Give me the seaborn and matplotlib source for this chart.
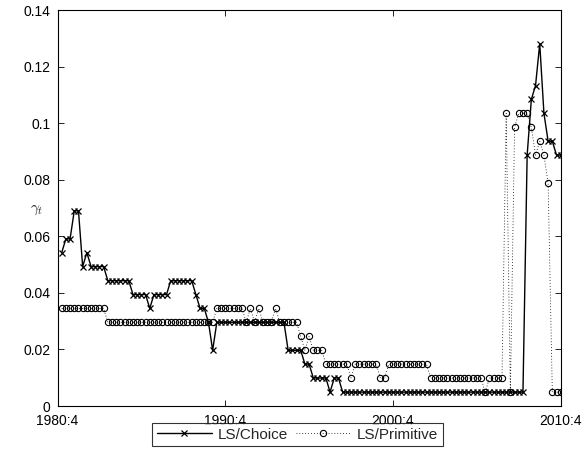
import numpy as np
import pandas as pd
import seaborn as sns
import matplotlib
matplotlib.use("Agg")
import matplotlib.pyplot as plt

# Quarterly x positions: 0 = 1980:4 ... 120 = 2010:4 ; data runs 1981:1 .. 2010:4
tick_pos = [0, 40, 80, 120]
tick_labels = ["1980:4", "1990:4", "2000:4", "2010:4"]
quarters = list(range(1, 121))

ls_choice = [
    0.0542, 0.0591, 0.0591, 0.0690, 0.0690, 0.0493, 0.0542, 0.0493, 0.0493, 0.0493,
    0.0493, 0.0443, 0.0443, 0.0443, 0.0443, 0.0443, 0.0443, 0.0394, 0.0394, 0.0394,
    0.0394, 0.0345, 0.0394, 0.0394, 0.0394, 0.0394, 0.0443, 0.0443, 0.0443, 0.0443,
    0.0443, 0.0443, 0.0394, 0.0345, 0.0345, 0.0296, 0.0197, 0.0296, 0.0296, 0.0296,
    0.0296, 0.0296, 0.0296, 0.0296, 0.0296, 0.0296, 0.0296, 0.0296, 0.0296, 0.0296,
    0.0296, 0.0296, 0.0296, 0.0296, 0.0197, 0.0197, 0.0197, 0.0197, 0.0148, 0.0148,
    0.0099, 0.0099, 0.0099, 0.0099, 0.0049, 0.0099, 0.0099, 0.0049, 0.0049, 0.0049,
    0.0049, 0.0049, 0.0049, 0.0049, 0.0049, 0.0049, 0.0049, 0.0049, 0.0049, 0.0049,
    0.0049, 0.0049, 0.0049, 0.0049, 0.0049, 0.0049, 0.0049, 0.0049, 0.0049, 0.0049,
    0.0049, 0.0049, 0.0049, 0.0049, 0.0049, 0.0049, 0.0049, 0.0049, 0.0049, 0.0049,
    0.0049, 0.0049, 0.0049, 0.0049, 0.0049, 0.0049, 0.0049, 0.0049, 0.0049, 0.0049,
    0.0049, 0.0887, 0.1084, 0.1133, 0.1281, 0.1035, 0.0936, 0.0936, 0.0887, 0.0887,
]

ls_primitive = [
    0.0345, 0.0345, 0.0345, 0.0345, 0.0345, 0.0345, 0.0345, 0.0345, 0.0345, 0.0345,
    0.0345, 0.0296, 0.0296, 0.0296, 0.0296, 0.0296, 0.0296, 0.0296, 0.0296, 0.0296,
    0.0296, 0.0296, 0.0296, 0.0296, 0.0296, 0.0296, 0.0296, 0.0296, 0.0296, 0.0296,
    0.0296, 0.0296, 0.0296, 0.0296, 0.0296, 0.0296, 0.0296, 0.0345, 0.0345, 0.0345,
    0.0345, 0.0345, 0.0345, 0.0345, 0.0296, 0.0345, 0.0296, 0.0345, 0.0296, 0.0296,
    0.0296, 0.0345, 0.0296, 0.0296, 0.0296, 0.0296, 0.0296, 0.0246, 0.0197, 0.0246,
    0.0197, 0.0197, 0.0197, 0.0148, 0.0148, 0.0148, 0.0148, 0.0148, 0.0148, 0.0099,
    0.0148, 0.0148, 0.0148, 0.0148, 0.0148, 0.0148, 0.0099, 0.0099, 0.0148, 0.0148,
    0.0148, 0.0148, 0.0148, 0.0148, 0.0148, 0.0148, 0.0148, 0.0148, 0.0099, 0.0099,
    0.0099, 0.0099, 0.0099, 0.0099, 0.0099, 0.0099, 0.0099, 0.0099, 0.0099, 0.0099,
    0.0099, 0.0049, 0.0099, 0.0099, 0.0099, 0.0099, 0.1035, 0.0049, 0.0985, 0.1035,
    0.1035, 0.1035, 0.0985, 0.0887, 0.0936, 0.0887, 0.0788, 0.0049, 0.0049, 0.0049,
]

series_names = ["LS/Choice", "LS/Primitive"]

sns.set_style("white")
plt.rcParams["font.family"] = ["Liberation Sans", "DejaVu Sans"]
plt.rcParams["mathtext.fontset"] = "cm"

fig = plt.figure(figsize=(5.88, 4.61), dpi=100)
ax = fig.add_axes([57.5 / 588, 55 / 461, 503.2 / 588, 396 / 461])

df = pd.DataFrame({"q": quarters, "choice": ls_choice, "prim": ls_primitive})

sns.lineplot(data=df, x="q", y="choice", ax=ax, color="k", linewidth=1.0,
             marker="x", markersize=4.5, markeredgecolor="k", markeredgewidth=0.9,
             label=series_names[0])
sns.lineplot(data=df, x="q", y="prim", ax=ax, color="k", linewidth=0.6,
             linestyle=(0, (1, 2.5)), marker="o", markersize=4.5,
             markerfacecolor="none", markeredgecolor="k", markeredgewidth=0.8,
             label=series_names[1])

ax.set_xlim(0, 120)
ax.set_ylim(0, 0.14)
ax.set_xticks(tick_pos)
ax.set_xticklabels(tick_labels)
yt = [0, 0.02, 0.04, 0.06, 0.08, 0.1, 0.12, 0.14]
ax.set_yticks(yt)
ax.set_yticklabels(["0", "0.02", "0.04", "0.06", "0.08", "0.1", "0.12", "0.14"])
ax.tick_params(direction="in", length=4, width=0.6, labelsize=10, colors="k",
               top=True, right=True, bottom=True, left=True)
ax.tick_params(axis="x", pad=6)
ax.tick_params(axis="y", pad=5)
for s in ax.spines.values():
    s.set_color("k")
    s.set_linewidth(0.8)
ax.set_xlabel("")
ax.set_ylabel(r"$\gamma_t$", rotation=0, fontsize=11, va="center", ha="center")
ax.yaxis.set_label_coords(-0.042, 0.495)

leg = ax.legend(loc="upper center", bbox_to_anchor=(0.477, -0.043), ncol=2,
                frameon=True, fancybox=False, edgecolor="k", fontsize=11,
                handlelength=3.6, columnspacing=0.5, handletextpad=0.4,
                borderpad=0.3, borderaxespad=0)
leg.get_frame().set_linewidth(0.8)

fig.savefig("out.png", dpi=100)
